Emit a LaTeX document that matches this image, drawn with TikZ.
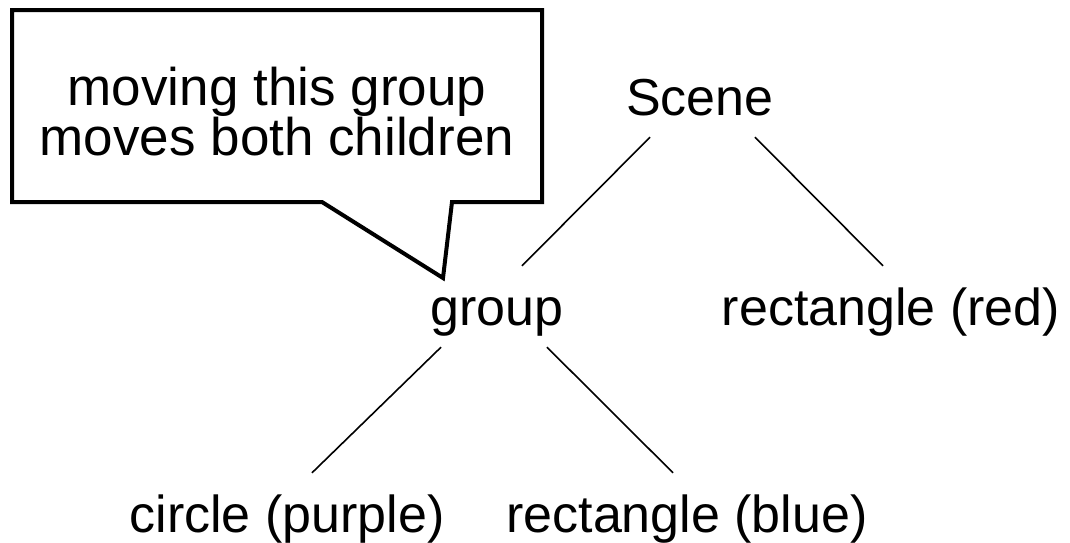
\documentclass[tikz,border=0pt]{standalone}
\usepackage{fontspec}
\setmainfont{Liberation Sans}
\begin{document}
\begin{tikzpicture}[x=1pt, y=-1pt,
  lbl/.style={anchor=base, inner xsep=0pt, inner ysep=22pt, text height=37pt, text depth=0pt, font=\fontsize{52}{50}\selectfont},
  edge/.style={line width=1.6pt}]
\useasboundingbox (0,0) rectangle (1070,542);

% Set the callout box
\draw[line width=4pt] (12,10) -- (542,10) -- (542,202) -- (452,202) -- (443,278) -- (322,202) -- (12,202) -- cycle;
\node[align=center, inner sep=0pt, font=\fontsize{53}{50}\selectfont] (note) at (277,112) {moving this group\\moves both children};

% Insert the tree nodes
\node[lbl] (scene) at (700,115) {Scene};
\node[lbl] (group) at (497,325) {group};
\node[lbl] (red) at (891,325) {rectangle (red)};
\node[lbl] (circle) at (287,532) {circle (purple)};
\node[lbl] (blue) at (687,532) {rectangle (blue)};

% Draw the connectors
\draw[edge] ([xshift=-50pt]scene.south) -- ([xshift=25pt]group.north);
\draw[edge] ([xshift=55pt]scene.south) -- ([xshift=-8pt]red.north);
\draw[edge] ([xshift=-56pt]group.south) -- ([xshift=25pt]circle.north);
\draw[edge] ([xshift=50pt]group.south) -- ([xshift=-14pt]blue.north);
\end{tikzpicture}
\end{document}
